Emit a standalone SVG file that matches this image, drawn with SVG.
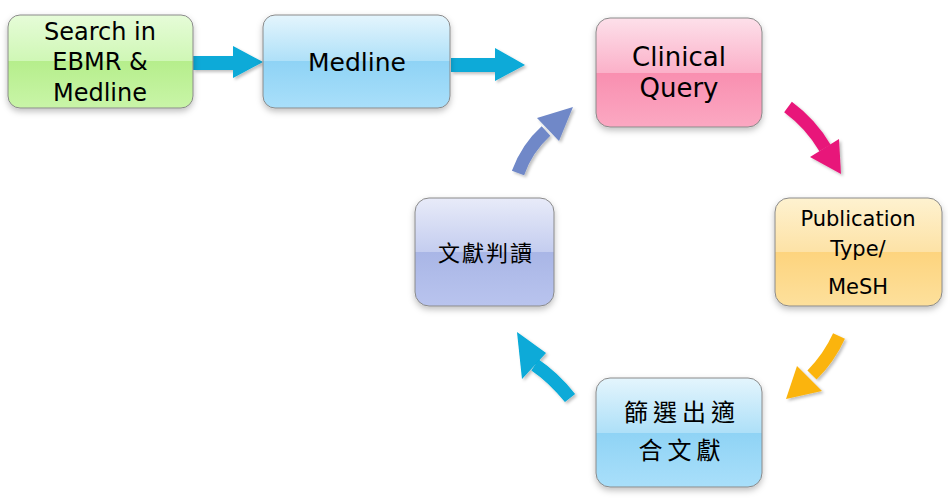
<svg xmlns="http://www.w3.org/2000/svg" width="948" height="498" viewBox="0 0 948 498">
<defs>
<linearGradient id="gGreen" x1="0" y1="0" x2="0" y2="1"><stop offset="0" stop-color="#e6fcd8"/><stop offset="0.5" stop-color="#cff7b5"/><stop offset="0.5" stop-color="#b6ee8c"/><stop offset="1" stop-color="#c9f5a8"/></linearGradient>
<linearGradient id="gBlue" x1="0" y1="0" x2="0" y2="1"><stop offset="0" stop-color="#e4f5fd"/><stop offset="0.5" stop-color="#aee0f8"/><stop offset="0.5" stop-color="#8fd3f5"/><stop offset="1" stop-color="#a9dffa"/></linearGradient>
<linearGradient id="gPink" x1="0" y1="0" x2="0" y2="1"><stop offset="0" stop-color="#fde0ea"/><stop offset="0.5" stop-color="#fbb1c9"/><stop offset="0.5" stop-color="#f98fb0"/><stop offset="1" stop-color="#fba8c2"/></linearGradient>
<linearGradient id="gYellow" x1="0" y1="0" x2="0" y2="1"><stop offset="0" stop-color="#fef2d0"/><stop offset="0.5" stop-color="#fde2a6"/><stop offset="0.5" stop-color="#fdd47e"/><stop offset="1" stop-color="#fde09c"/></linearGradient>
<linearGradient id="gPurple" x1="0" y1="0" x2="0" y2="1"><stop offset="0" stop-color="#e8ebf9"/><stop offset="0.5" stop-color="#c4cdef"/><stop offset="0.5" stop-color="#a9b6e6"/><stop offset="1" stop-color="#b9c4ee"/></linearGradient>
<filter id="sh" x="-20%" y="-20%" width="140%" height="150%"><feDropShadow dx="0" dy="3" stdDeviation="3" flood-color="#000" flood-opacity="0.25"/></filter>
<filter id="ash" x="-30%" y="-30%" width="160%" height="160%"><feDropShadow dx="2" dy="2" stdDeviation="1.5" flood-color="#000" flood-opacity="0.25"/></filter>
</defs>
<style>
.box{stroke:#8a8a8a;stroke-width:1;filter:url(#sh)}
.t{font-family:"DejaVu Sans",sans-serif;fill:#000;text-anchor:middle}
.c{font-family:"Noto Sans CJK TC","Noto Sans CJK SC",sans-serif;fill:#000;text-anchor:middle}
</style>
<g id="connectors">
<g id="a1" fill="#07aad8" filter="url(#ash)"><rect x="193" y="56" width="42" height="14"/><polygon points="233,46 263,62 233,78"/></g>
<g id="a2" fill="#07aad8" filter="url(#ash)"><rect x="451" y="58" width="46" height="14"/><polygon points="495,48 525,65 495,81"/></g>
<g id="a3" filter="url(#ash)"><path d="M788 107 Q811 124 825 148" fill="none" stroke="#e8197a" stroke-width="13"/><polygon points="810,157 839,139 841,174" fill="#e8197a"/></g>
<g id="a4" filter="url(#ash)"><path d="M839 336 Q829 358 812 375" fill="none" stroke="#fbb40f" stroke-width="13"/><polygon points="797,366 822,391 786,399" fill="#fbb40f"/></g>
<g id="a5" filter="url(#ash)"><path d="M570 398 Q553 377 535 365" fill="none" stroke="#07aad8" stroke-width="13"/><polygon points="546,353 522,379 517,332" fill="#07aad8"/></g>
<g id="a6" filter="url(#ash)"><path d="M518 173 Q527 148 546 131" fill="none" stroke="#6f88c8" stroke-width="13"/><polygon points="537,118 559,141 573,107" fill="#6f88c8"/></g>
</g>
<g id="n1"><rect class="box" x="8" y="15" width="185" height="93" rx="12" fill="url(#gGreen)"/>
<text class="t" font-size="24" x="100" y="40">Search in</text><text class="t" font-size="24" x="100" y="70">EBMR &amp;</text><text class="t" font-size="24" x="100" y="101">Medline</text></g>
<g id="n2"><rect class="box" x="263" y="15" width="187" height="93" rx="12" fill="url(#gBlue)"/>
<text class="t" font-size="25" x="357" y="71">Medline</text></g>
<g id="n3"><rect class="box" x="596" y="18" width="166" height="109" rx="14" fill="url(#gPink)"/>
<text class="t" font-size="26" x="679" y="66">Clinical</text><text class="t" font-size="26" x="679" y="97">Query</text></g>
<g id="n4"><rect class="box" x="775" y="198" width="167" height="108" rx="14" fill="url(#gYellow)"/>
<text class="t" font-size="21" x="858" y="226">Publication</text><text class="t" font-size="21" x="858" y="256">Type/</text><text class="t" font-size="21" x="858" y="294">MeSH</text></g>
<g id="n5"><rect class="box" x="596" y="378" width="166" height="109" rx="14" fill="url(#gBlue)"/>
<text class="c" font-size="24" letter-spacing="5" x="682" y="421">篩選出適</text><text class="c" font-size="24" letter-spacing="5" x="682" y="459">合文獻</text></g>
<g id="n6"><rect class="box" x="415" y="198" width="139" height="108" rx="14" fill="url(#gPurple)"/>
<text class="c" font-size="22" letter-spacing="2" x="486" y="261">文獻判讀</text></g>
</svg>
